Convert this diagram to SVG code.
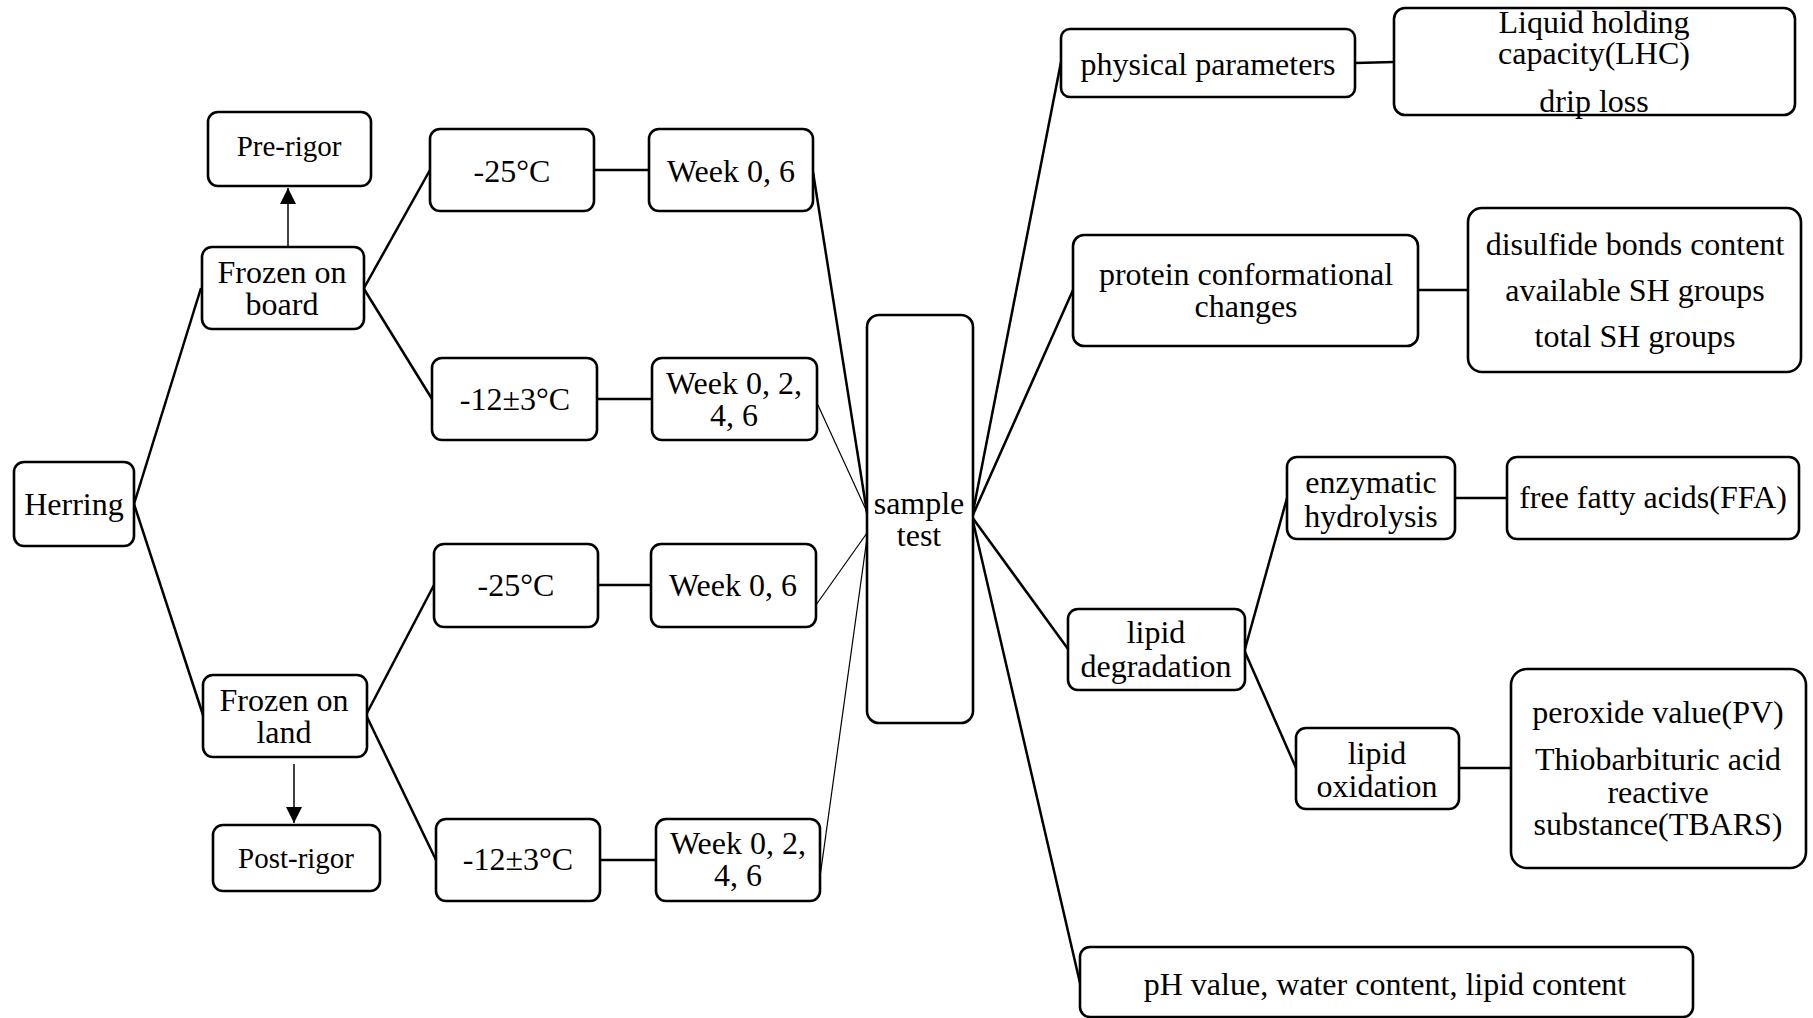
<svg xmlns="http://www.w3.org/2000/svg" width="1813" height="1018" viewBox="0 0 1813 1018">
<defs>
<style>
.n rect{fill:#fff;stroke:#000;stroke-width:2.6}
text{font-family:"Liberation Serif","Times New Roman",serif;font-size:32px;fill:#000;text-anchor:middle}
.sm{font-size:29px}
.c line{stroke:#000;stroke-width:2.5}
.c line.t{stroke-width:1.2}
.c line.a{stroke-width:1.5}
</style>
<marker id="ah" viewBox="0 0 16 16" refX="16" refY="8" markerWidth="16" markerHeight="16" markerUnits="userSpaceOnUse" orient="auto"><path d="M0,0 L16,8 L0,16 Z" fill="#000"/></marker>
</defs>
<rect width="1813" height="1018" fill="#fff"/>
<g id="connectors" class="c">
<line x1="134" y1="504" x2="201" y2="288"/>
<line x1="134" y1="504" x2="203" y2="715"/>
<line x1="288" y1="246" x2="288" y2="188" class="a" marker-end="url(#ah)"/>
<line x1="294" y1="764" x2="294" y2="823" class="a" marker-end="url(#ah)"/>
<line x1="364" y1="288" x2="430" y2="170"/>
<line x1="364" y1="289" x2="432" y2="399"/>
<line x1="367" y1="713" x2="434" y2="585"/>
<line x1="367" y1="717" x2="436" y2="860"/>
<line x1="594" y1="170" x2="649" y2="170"/>
<line x1="597" y1="399" x2="652" y2="399"/>
<line x1="598" y1="585" x2="651" y2="585"/>
<line x1="600" y1="860" x2="656" y2="860"/>
<line x1="813" y1="172" x2="867" y2="513"/>
<line x1="817" y1="403" x2="867" y2="512" class="t"/>
<line x1="816" y1="605" x2="867" y2="533" class="t"/>
<line x1="820" y1="877" x2="867" y2="538" class="t"/>
<line x1="972" y1="517" x2="1061" y2="62"/>
<line x1="972" y1="517" x2="1073" y2="290"/>
<line x1="972" y1="517" x2="1068" y2="649"/>
<line x1="972" y1="517" x2="1080" y2="983"/>
<line x1="1355" y1="63" x2="1394" y2="62"/>
<line x1="1418" y1="290" x2="1468" y2="290"/>
<line x1="1245" y1="649" x2="1287" y2="498"/>
<line x1="1245" y1="652" x2="1296" y2="768"/>
<line x1="1455" y1="498" x2="1507" y2="498"/>
<line x1="1459" y1="768" x2="1511" y2="768"/>
</g>
<g id="herring" class="n"><rect x="14" y="462" width="120" height="84" rx="10"/><text x="74" y="515">Herring</text></g>
<g id="pre-rigor" class="n"><rect x="208" y="112" width="163" height="74" rx="10"/><text class="sm" x="289" y="156">Pre-rigor</text></g>
<g id="frozen-board" class="n"><rect x="202" y="247" width="162" height="82" rx="10"/><text x="282" y="283">Frozen on</text><text x="282" y="315">board</text></g>
<g id="frozen-land" class="n"><rect x="203" y="675" width="164" height="82" rx="10"/><text x="284" y="711">Frozen on</text><text x="284" y="743">land</text></g>
<g id="post-rigor" class="n"><rect x="213" y="825" width="167" height="66" rx="10"/><text class="sm" x="296" y="868">Post-rigor</text></g>
<g id="t25a" class="n"><rect x="430" y="129" width="164" height="82" rx="10"/><text x="512" y="182">-25°C</text></g>
<g id="t12a" class="n"><rect x="432" y="358" width="165" height="82" rx="10"/><text x="515" y="410">-12±3°C</text></g>
<g id="t25b" class="n"><rect x="434" y="544" width="164" height="83" rx="10"/><text x="516" y="596">-25°C</text></g>
<g id="t12b" class="n"><rect x="436" y="819" width="164" height="82" rx="10"/><text x="518" y="870">-12±3°C</text></g>
<g id="w06a" class="n"><rect x="649" y="129" width="164" height="82" rx="10"/><text x="731" y="182">Week 0, 6</text></g>
<g id="w0246a" class="n"><rect x="652" y="358" width="165" height="82" rx="10"/><text x="734" y="394">Week 0, 2,</text><text x="734" y="426">4, 6</text></g>
<g id="w06b" class="n"><rect x="651" y="544" width="165" height="83" rx="10"/><text x="733" y="596">Week 0, 6</text></g>
<g id="w0246b" class="n"><rect x="656" y="819" width="164" height="82" rx="10"/><text x="738" y="854">Week 0, 2,</text><text x="738" y="886">4, 6</text></g>
<g id="sample-test" class="n"><rect x="867" y="315" width="106" height="408" rx="12"/><text x="919" y="514">sample</text><text x="919" y="546">test</text></g>
<g id="physical" class="n"><rect x="1061" y="29" width="294" height="68" rx="9"/><text x="1208" y="75">physical parameters</text></g>
<g id="lhc" class="n"><rect x="1394" y="8" width="401" height="107" rx="11"/><text x="1594" y="33">Liquid holding</text><text x="1594" y="64">capacity(LHC)</text><text x="1594" y="112">drip loss</text></g>
<g id="protein" class="n"><rect x="1073" y="235" width="345" height="111" rx="11"/><text x="1246" y="285">protein conformational</text><text x="1246" y="317">changes</text></g>
<g id="sh" class="n"><rect x="1468" y="208" width="333" height="164" rx="14"/><text x="1635" y="255">disulfide bonds content</text><text x="1635" y="301">available SH groups</text><text x="1635" y="347">total SH groups</text></g>
<g id="lipid-deg" class="n"><rect x="1068" y="609" width="177" height="81" rx="10"/><text x="1156" y="643">lipid</text><text x="1156" y="677">degradation</text></g>
<g id="enzymatic" class="n"><rect x="1287" y="457" width="168" height="82" rx="10"/><text x="1371" y="493">enzymatic</text><text x="1371" y="527">hydrolysis</text></g>
<g id="ffa" class="n"><rect x="1507" y="457" width="292" height="82" rx="10"/><text x="1653" y="508">free fatty acids(FFA)</text></g>
<g id="lipid-ox" class="n"><rect x="1296" y="728" width="163" height="81" rx="10"/><text x="1377" y="764">lipid</text><text x="1377" y="797">oxidation</text></g>
<g id="tbars" class="n"><rect x="1511" y="669" width="295" height="199" rx="16"/><text x="1658" y="723">peroxide value(PV)</text><text x="1658" y="770">Thiobarbituric acid</text><text x="1658" y="803">reactive</text><text x="1658" y="835">substance(TBARS)</text></g>
<g id="ph" class="n"><rect x="1080" y="947" width="613" height="70" rx="10"/><text x="1385" y="995">pH value, water content, lipid content</text></g>
</svg>
